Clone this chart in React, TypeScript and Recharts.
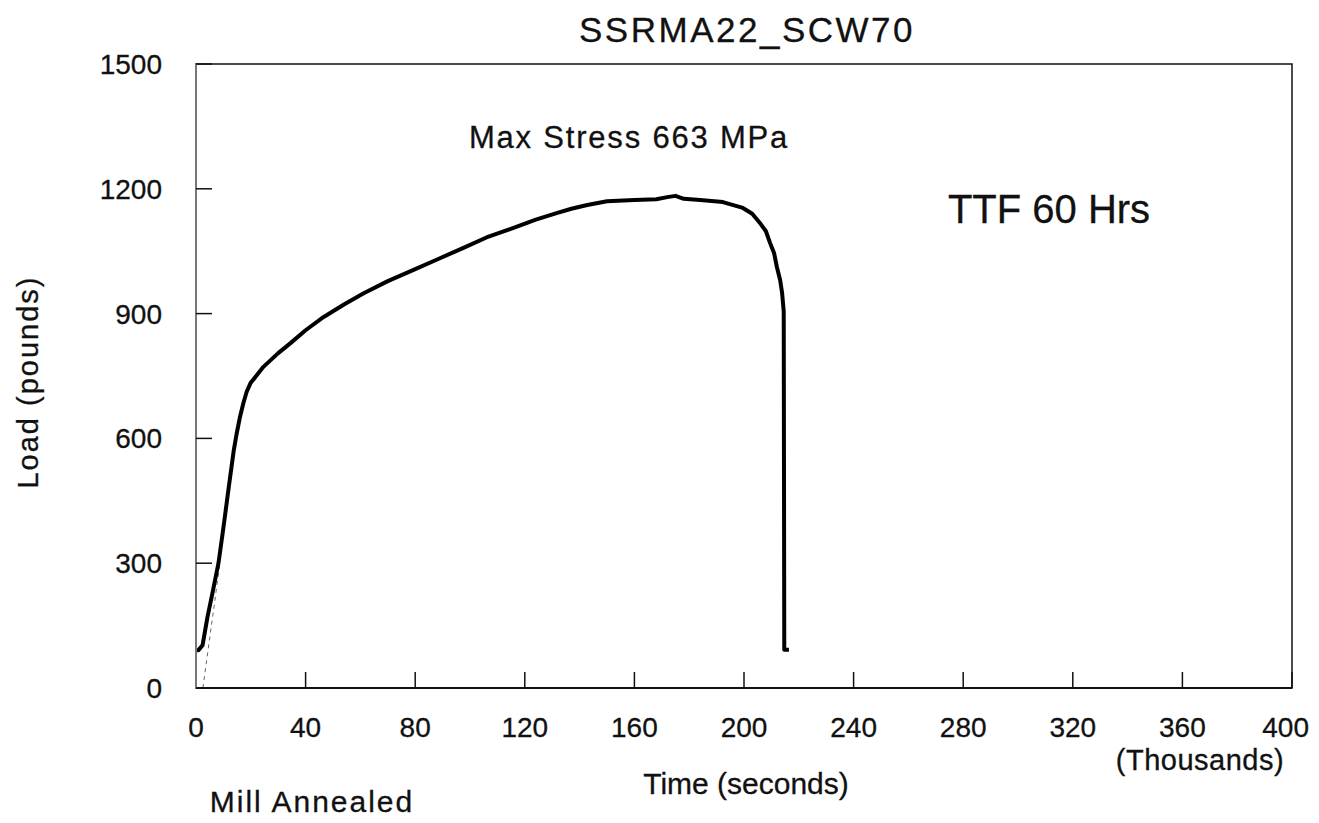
import React from "react";
import {
	LineChart,
	Line,
	XAxis,
	YAxis,
	ReferenceArea,
} from "recharts";

// Time in thousands of seconds, load in pounds
const timeK = [
	0.3, 0.9, 2.4, 4.2, 6.0, 8.2, 10, 12, 13.8, 14.8, 16, 17.3, 18.5, 19.9,
	24.6, 30, 34.5, 40, 46.6, 54, 61.2, 70, 79.4, 88, 97.6, 106, 115.9, 124,
	131.9, 137, 142.8, 150, 160, 168, 172, 175, 178, 184, 192.3, 199.6, 203,
	205.8, 208, 209.5, 211, 212, 213.2, 213.9, 214.5, 214.6, 214.7, 216.4,
];
const loadLb = [
	90, 91, 103, 171, 228, 300, 385, 485, 572, 610, 650, 685, 712, 733, 772,
	805, 829, 860, 892, 922, 949, 978, 1005, 1030, 1058, 1083, 1106, 1126,
	1142, 1152, 1161, 1170, 1173, 1175, 1180, 1183, 1176, 1173, 1168, 1154,
	1140, 1118, 1098, 1070, 1045, 1012, 980, 950, 905, 500, 92, 92,
];

// faint dashed elastic-loading guide
const guideTime = [2.5, 6.4, 8.6];
const guideLoad = [0, 187, 295];

const xTicks = [0, 40, 80, 120, 160, 200, 240, 280, 320, 360, 400];
const yTicks = [0, 300, 600, 900, 1200, 1500];

const curve = timeK.map((t, i) => ({ t, load: loadLb[i] }));
const guide = guideTime.map((t, i) => ({ t, load: guideLoad[i] }));

const FONT = '"Liberation Sans", Arial, Helvetica, sans-serif';
const INK = "#111";
const W = 1303;
const H = 807;

// the last label sits against the page edge, so it is end-anchored
const XTick = (props: any) => {
	const { x, y, payload } = props;
	const last = payload.value === xTicks[xTicks.length - 1];
	return (
		<text
			x={last ? x + 17 : x}
			y={y}
			dy="0.71em"
			textAnchor={last ? "end" : "middle"}
			fontSize={28}
			fontFamily={FONT}
			fill={INK}
			stroke={INK}
			strokeWidth={0.3}
		>
			{payload.value}
		</text>
	);
};

export default function App() {
	return (
		<div style={{ position: "relative", width: W, height: H, fontFamily: FONT }}>
			<LineChart
				width={W}
				height={H}
				margin={{ top: 56, right: 19, left: 88, bottom: 77 }}
			>
				<XAxis
					dataKey="t"
					type="number"
					domain={[0, 400]}
					ticks={xTicks}
					allowDataOverflow
					height={50}
					stroke={INK}
					strokeWidth={2}
					tickSize={-16}
					tickMargin={45}
					tickLine={{ stroke: INK, strokeWidth: 1.5 }}
					tick={<XTick />}
				/>
				<YAxis
					type="number"
					domain={[0, 1500]}
					ticks={yTicks}
					width={100}
					stroke="#777"
					strokeWidth={2}
					tickSize={-16}
					tickMargin={50}
					tickLine={{ stroke: INK, strokeWidth: 1.5 }}
					tick={{ fill: INK, fontSize: 28, fontFamily: FONT, stroke: INK, strokeWidth: 0.3 }}
				/>
				<ReferenceArea
					x1={0}
					x2={400}
					y1={0}
					y2={1500}
					fill="none"
					fillOpacity={0}
					stroke={INK}
					strokeWidth={1.5}
				/>
				<Line
					data={guide}
					dataKey="load"
					type="linear"
					stroke="#666"
					strokeWidth={1}
					strokeDasharray="4 4"
					dot={false}
					isAnimationActive={false}
				/>
				<Line
					data={curve}
					dataKey="load"
					type="linear"
					stroke="#000"
					strokeWidth={4}
					strokeLinejoin="round"
					dot={false}
					isAnimationActive={false}
				/>
			</LineChart>
			<svg
				width={W}
				height={815}
				style={{ position: "absolute", left: 0, top: 0, pointerEvents: "none" }}
				fontFamily={FONT}
				fill={INK}
				stroke={INK}
				strokeWidth={0.3}
			>
				<text x={739} y={34} fontSize={35} textAnchor="middle" letterSpacing={2.5}>
					SSRMA22_SCW70
				</text>
				<text x={621} y={140} fontSize={31} textAnchor="middle" letterSpacing={1.8}>
					Max Stress 663 MPa
				</text>
				<text x={1041} y={215} fontSize={40} textAnchor="middle">
					TTF 60 Hrs
				</text>
				<text
					x={30}
					y={374}
					fontSize={29}
					textAnchor="middle"
					letterSpacing={2}
					transform="rotate(-90 30 374)"
				>
					Load (pounds)
				</text>
				<text x={738} y={786} fontSize={30} textAnchor="middle">
					Time (seconds)
				</text>
				<text x={1192} y={762} fontSize={29} textAnchor="middle" letterSpacing={0.5}>
					(Thousands)
				</text>
				<text x={304} y={804} fontSize={30} textAnchor="middle" letterSpacing={2}>
					Mill Annealed
				</text>
			</svg>
		</div>
	);
}
